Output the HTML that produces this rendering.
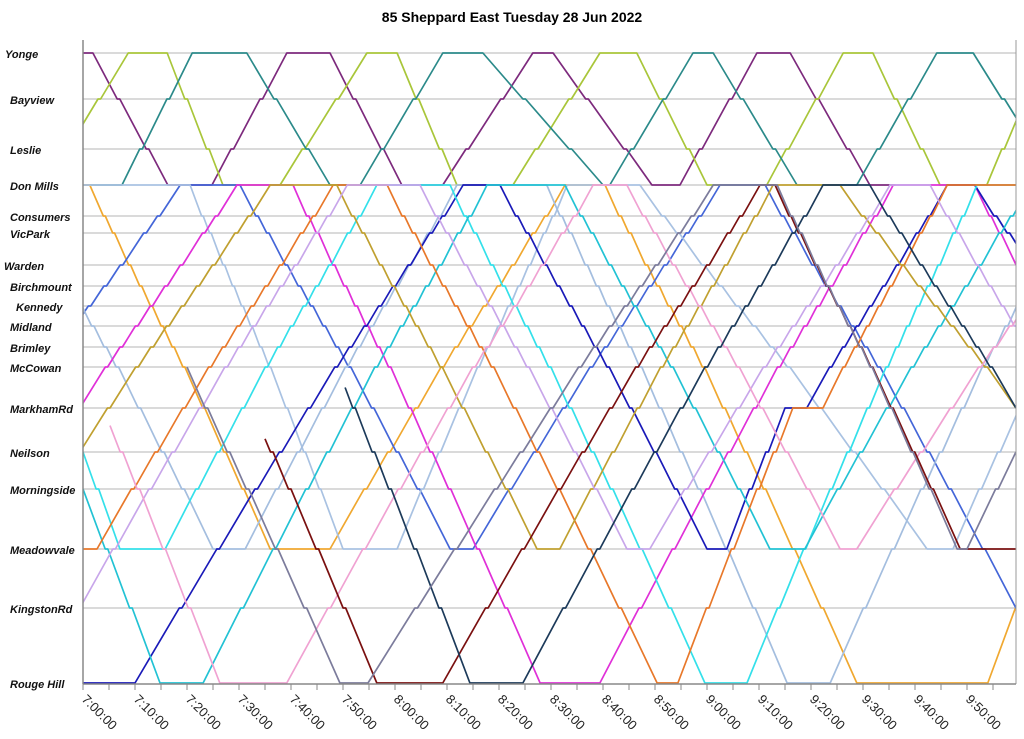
<!DOCTYPE html>
<html><head><meta charset="utf-8">
<style>
html,body{margin:0;padding:0;background:#fff;}
svg{display:block;font-family:"Liberation Sans",Arial,sans-serif;}
</style></head>
<body>
<svg id="chart" width="1024" height="739" viewBox="0 0 1024 739" xmlns="http://www.w3.org/2000/svg">
<rect x="0" y="0" width="1024" height="739" fill="#fff"/>
<text x="512" y="22" text-anchor="middle" font-size="14" font-weight="bold">85 Sheppard East Tuesday 28 Jun 2022</text>
<defs><clipPath id="plotClip"><rect x="83" y="40" width="933" height="645"/></clipPath></defs>
<g id="grid"></g>
<g id="ylabels"></g>
<g id="series" clip-path="url(#plotClip)"></g>
<g id="axes"></g>
</svg>
<script>
// ---- data ----
const stations = ["Yonge","Bayview","Leslie","Don Mills","Consumers","VicPark","Warden","Birchmount","Kennedy","Midland","Brimley","McCowan","MarkhamRd","Neilson","Morningside","Meadowvale","KingstonRd","Rouge Hill"];
const stationY = [53,99,149,185,216,233,265,286,306,326,347,367,408,452,489,549,608,683];
const labelX = [5,10,10,10,10,10,4,10,16,10,10,10,10,10,10,10,10,10];
const tickLabels = ["7:00:00","7:10:00","7:20:00","7:30:00","7:40:00","7:50:00","8:00:00","8:10:00","8:20:00","8:30:00","8:40:00","8:50:00","9:00:00","9:10:00","9:20:00","9:30:00","9:40:00","9:50:00"];
const tickMinutes = [0,10,20,30,40,50,60,70,80,90,100,110,120,130,140,150,160,170];
// vehicles: waypoints [minutes after 7:00, station index]
const vehicleNames = ["purple","yellowgreen","teal","amber","royalblue","lightblue-a","lightblue-b","magenta","darkblue","cyan-a","cyan-b","orange","olive","lilac","pink","darkred","navy","grey"];
const vehicleColors = ["#7d2a7d","#a9c63a","#2b8a8a","#f0a830","#4466d8","#a9c2e2","#a4bedf","#e030d8","#1a1ab8","#34e0ea","#22c2d4","#e8782a","#c0a030","#c8a6ea","#f0a2d2","#7a1010","#1c3a5a","#7c7c9c"];
const purple = [[0,0],[1.9,0],[16.3,3],[24.8,3],[39.2,0],[47.5,0],[61.3,3],[69.2,3],[86.5,0],[90.4,0],[109.4,3],[114.8,3],[129.6,0],[136,0],[151.3,3],[156.2,3]];
const yellowgreen = [[-2.9,2],[8.7,0],[16.2,0],[26.9,3],[37.9,3],[54.6,0],[60.4,0],[71.9,3],[82.7,3],[99.4,0],[106.5,0],[120,3],[131.5,3],[146.2,0],[151.9,0],[164.8,3],[173.8,3],[185.4,0]];
const teal = [[0,3],[7.5,3],[21,0],[31.5,0],[47.5,3],[53.3,3],[69.2,0],[76.9,0],[100,3],[101.3,3],[117.3,0],[121.2,0],[137.3,3],[148.8,3],[164.2,0],[171.2,0],[188,3]];
const amber = [[0,3],[1.3,3],[36,15],[47.5,15],[92.7,3],[100.4,3],[148.8,17],[174,17],[184,15]];
const royalblue = [[-1.5,9],[18.7,3],[30.2,3],[70.6,15],[75,15],[122.5,3],[131.2,3],[179.4,16],[186,17]];
const lightblueA = [[0,3],[20.6,3],[50,15],[60.4,15],[93.1,3],[107.1,3],[162.3,15],[167.3,15],[184,11]];
const lightblueB = [[-2.5,7],[25,15],[31.2,15],[71.9,3],[89.2,3],[135.4,17],[143.7,17],[184,6]];
const magenta = [[-0.6,12],[29.6,3],[40.4,3],[87.9,17],[99.4,17],[155.8,3],[171.5,3],[186,9]];
const darkblue = [[0,17],[10,17],[73.1,3],[80.2,3],[120,15],[123.8,15],[135,12],[139.2,12],[166.2,3],[171.5,3],[185,7]];
const cyanA = [[0,13],[7.1,15],[15.8,15],[56.5,3],[70.6,3],[119.6,17],[127.7,17],[171.9,3],[179.4,3]];
const cyanB = [[0,14],[14.8,17],[23.1,17],[77.7,3],[92.7,3],[132.1,15],[138.8,15],[182.1,3]];
const orange = [[0,15],[2.7,15],[48.1,3],[58.5,3],[110.4,17],[114.4,17],[136.5,12],[142.3,12],[166.2,3],[179.4,3]];
const olive = [[-0.6,13],[36,3],[48.8,3],[87.3,15],[91.7,15],[132.7,3],[145.6,3],[179.4,12]];
const lilac = [[-0.6,16],[50.8,3],[64.8,3],[104.6,15],[109,15],[155.2,3],[162.9,3],[184,11]];
const pink = [[5.2,12.4],[26.3,17],[39.2,17],[98.1,3],[104.6,3],[145.6,15],[148.8,15],[184,7]];
const darkred = [[35,12.7],[56.5,17],[69.2,17],[130.2,3],[133.1,3],[168.7,15],[179.4,15]];
const navy = [[50.4,11.5],[74.4,17],[84.6,17],[142.3,3],[151.3,3],[179.4,12]];
const grey = [[20,11],[49.4,17],[54.8,17],[121.2,3],[133.5,3],[168.1,15],[170,15],[179.4,13]];
const vehicles = [purple,yellowgreen,teal,amber,royalblue,lightblueA,lightblueB,magenta,darkblue,cyanA,cyanB,orange,olive,lilac,pink,darkred,navy,grey];

// ---- axis functions ----
const X0 = 83, PX_PER_MIN = 5.2, XR = 1016;
function xScale(m){ return X0 + m*PX_PER_MIN; }
function yScale(s){
  const i = Math.max(0, Math.min(stationY.length-2, Math.floor(s)));
  const f = s - i;
  return stationY[i] + (stationY[i+1]-stationY[i])*f;
}
const NS = "http://www.w3.org/2000/svg";
function mk(tag, attrs){ const e=document.createElementNS(NS,tag); for(const k in attrs) e.setAttribute(k, attrs[k]); return e; }

// gridlines + labels
const grid = document.getElementById('grid');
const ylabels = document.getElementById('ylabels');
stations.forEach((name,i)=>{
  const y = yScale(i);
  if (i < stations.length-1) {
    const ln = mk('line',{x1:X0,x2:XR,y1:y,y2:y,stroke:'#b4b4b4','stroke-width':1});
    
    
    grid.appendChild(ln);
  }
  const t = mk('text',{x:labelX[i], y:y+5, 'font-size':11, 'font-weight':'bold', 'font-style':'italic', fill:'#111'});
  t.textContent = name;
  
  
  ylabels.appendChild(t);
});

// series
const series = document.getElementById('series');
function buildPath(wp){
  const pts = [[wp[0][0], wp[0][1]]];
  for (let k=1;k<wp.length;k++){
    const [t0,s0] = wp[k-1], [t1,s1] = wp[k];
    if (s0 === s1){ pts.push([t1,s1]); continue; }
    const dir = s1 > s0 ? 1 : -1;
    const mids = [];
    if (dir>0){ for(let s=Math.floor(s0)+1; s<s1; s++) if (s>s0) mids.push(s); }
    else { for(let s=Math.ceil(s0)-1; s>s1; s--) if (s<s0) mids.push(s); }
    const total = t1 - t0;
    const dwell = Math.min(0.5, total*0.12/Math.max(1,mids.length));
    const moveT = total - dwell*mids.length;
    const seq = [s0, ...mids, s1];
    const dyTot = Math.abs(yScale(s1)-yScale(s0));
    let t = t0;
    for (let j=1;j<seq.length;j++){
      const dy = Math.abs(yScale(seq[j])-yScale(seq[j-1]));
      t += moveT*dy/dyTot;
      pts.push([t, seq[j]]);
      if (j < seq.length-1){ t += dwell; pts.push([t, seq[j]]); }
    }
  }
  return pts.map((p,i)=>(i?'L':'M')+xScale(p[0]).toFixed(1)+' '+yScale(p[1]).toFixed(1)).join(' ');
}
vehicles.forEach((wp,i)=>{
  const p = mk('path',{d:buildPath(wp), fill:'none', stroke:vehicleColors[i], 'stroke-width':1.7, 'stroke-linejoin':'round'});
  
  
  series.appendChild(p);
});

// axes
const axes = document.getElementById('axes');
const yAxis = mk('line',{x1:X0,x2:X0,y1:40,y2:684,stroke:'#888','stroke-width':1.5});


axes.appendChild(yAxis);
const rAxis = mk('line',{x1:XR,x2:XR,y1:40,y2:684,stroke:'#999','stroke-width':1});


axes.appendChild(rAxis);
const xAxis = mk('line',{x1:X0,x2:XR,y1:684,y2:684,stroke:'#888','stroke-width':1.5});


axes.appendChild(xAxis);
for (let m=0; m<=175; m+=5){
  const x = xScale(m);
  const tk = mk('line',{x1:x,x2:x,y1:684,y2:690,stroke:'#888','stroke-width':1});
  
  
  axes.appendChild(tk);
}
tickLabels.forEach((lab,i)=>{
  const x = xScale(tickMinutes[i]);
  const t = mk('text',{x:0,y:0,'font-size':13,fill:'#222',transform:`translate(${x-2},${700}) rotate(45)`});
  t.textContent = lab;
  
  
  axes.appendChild(t);
});
</script>
</body></html>
